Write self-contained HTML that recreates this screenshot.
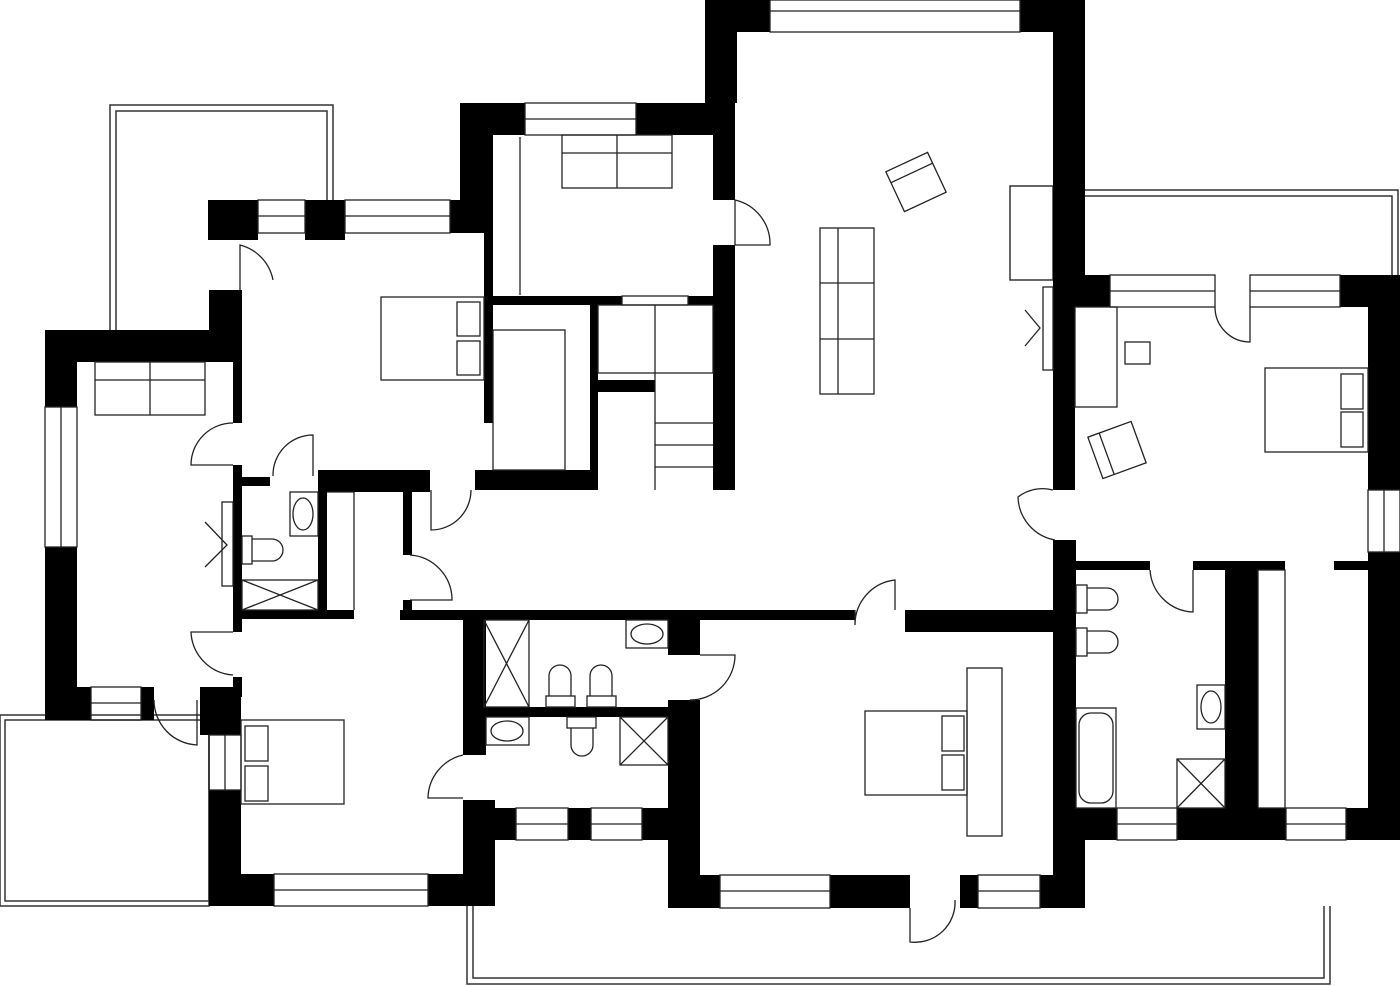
<!DOCTYPE html>
<html><head><meta charset="utf-8"><style>html,body{margin:0;padding:0;background:#fff}svg{display:block}</style></head>
<body>
<svg width="1400" height="986" viewBox="0 0 1400 986" xmlns="http://www.w3.org/2000/svg">
<rect width="1400" height="986" fill="#fff"/>
<!-- terraces -->
<g fill="none" stroke="#333" stroke-width="1.5">
<path d="M110,330 V105 H333 V200"/><path d="M116,330 V111 H327 V200"/>
<rect x="0" y="715" width="209" height="191"/><rect x="5" y="720" width="204" height="181"/>
<path d="M1085,190 H1398 V275"/><path d="M1085,196 H1392 V275"/>
<path d="M467,906 V984 H1330 V906"/><path d="M473,906 V978 H1324 V906"/>
<rect x="1010" y="186" width="43" height="94"/>
</g>
<g fill="#000">
<rect x="705" y="0" width="65" height="32"/><rect x="1020" y="0" width="65" height="32"/>
<rect x="705" y="0" width="32" height="103"/>
<rect x="713" y="103" width="22" height="97"/><rect x="713" y="245" width="22" height="245"/>
<rect x="1053" y="0" width="32" height="275"/><rect x="1053" y="275" width="22" height="215"/>
<rect x="1053" y="540" width="23" height="300"/>
<rect x="460" y="103" width="65" height="32"/><rect x="636" y="103" width="77" height="32"/>
<rect x="460" y="103" width="33" height="130"/><rect x="484" y="233" width="9" height="190"/>
<rect x="484" y="296" width="138" height="9"/><rect x="688" y="296" width="25" height="9"/>
<rect x="590" y="296" width="8" height="194"/><rect x="590" y="380" width="65" height="12"/>
<rect x="475" y="470" width="123" height="20"/><rect x="318" y="470" width="112" height="22"/>
<rect x="208" y="200" width="50" height="40"/><rect x="305" y="200" width="40" height="40"/><rect x="450" y="200" width="40" height="33"/>
<rect x="209" y="290" width="33" height="72"/><rect x="233" y="362" width="9" height="61"/>
<rect x="233" y="465" width="9" height="167"/>
<rect x="242" y="477" width="28" height="9"/><rect x="318" y="470" width="9" height="140"/>
<rect x="242" y="610" width="112" height="9"/>
<rect x="403" y="490" width="9" height="65"/><rect x="403" y="600" width="9" height="20"/>
<rect x="45" y="330" width="197" height="32"/><rect x="45" y="330" width="32" height="77"/>
<rect x="45" y="547" width="32" height="173"/>
<rect x="45" y="687" width="46" height="33"/><rect x="141" y="687" width="13" height="33"/>
<rect x="200" y="687" width="41" height="48"/>
<rect x="209" y="790" width="32" height="116"/>
<rect x="233" y="677" width="9" height="20"/>
<rect x="209" y="874" width="65" height="32"/><rect x="428" y="874" width="67" height="32"/>
<rect x="463" y="800" width="32" height="106"/>
<rect x="400" y="610" width="455" height="10"/><rect x="905" y="610" width="148" height="22"/>
<rect x="463" y="620" width="23" height="135"/><rect x="486" y="707" width="182" height="10"/>
<rect x="668" y="620" width="32" height="35"/><rect x="668" y="700" width="32" height="208"/>
<rect x="463" y="808" width="53" height="32"/><rect x="568" y="808" width="23" height="32"/><rect x="642" y="808" width="58" height="32"/>
<rect x="668" y="875" width="52" height="33"/><rect x="830" y="875" width="80" height="33"/>
<rect x="960" y="875" width="18" height="33"/><rect x="1040" y="875" width="45" height="33"/>
<rect x="1053" y="808" width="32" height="100"/>
<rect x="1075" y="275" width="35" height="32"/><rect x="1340" y="275" width="60" height="32"/>
<rect x="1368" y="275" width="32" height="215"/><rect x="1368" y="552" width="32" height="288"/>
<rect x="1076" y="561" width="74" height="9"/><rect x="1193" y="561" width="92" height="9"/><rect x="1334" y="561" width="34" height="9"/>
<rect x="1225" y="561" width="33" height="247"/>
<rect x="1076" y="808" width="41" height="32"/><rect x="1177" y="808" width="109" height="32"/><rect x="1346" y="808" width="54" height="32"/>
</g>
<g fill="none" stroke="#222" stroke-width="1.3">
<rect x="770" y="0" width="250" height="32"/><line x1="770" y1="11" x2="1020" y2="11"/>
<rect x="525" y="103" width="111" height="32"/><line x1="525" y1="119" x2="636" y2="119"/>
<rect x="258" y="200" width="47" height="33"/><line x1="258" y1="216" x2="305" y2="216"/>
<rect x="345" y="200" width="105" height="33"/><line x1="345" y1="216" x2="450" y2="216"/>
<rect x="45" y="407" width="32" height="140"/><line x1="61" y1="407" x2="61" y2="547"/>
<rect x="91" y="687" width="50" height="33"/><line x1="91" y1="703" x2="141" y2="703"/>
<rect x="209" y="735" width="32" height="55"/><line x1="225" y1="735" x2="225" y2="790"/>
<rect x="274" y="874" width="154" height="32"/><line x1="274" y1="890" x2="428" y2="890"/>
<rect x="516" y="808" width="52" height="32"/><line x1="516" y1="824" x2="568" y2="824"/>
<rect x="591" y="808" width="51" height="32"/><line x1="591" y1="824" x2="642" y2="824"/>
<rect x="720" y="875" width="110" height="33"/><line x1="720" y1="891" x2="830" y2="891"/>
<rect x="978" y="875" width="62" height="33"/><line x1="978" y1="891" x2="1040" y2="891"/>
<rect x="1110" y="275" width="105" height="32"/><line x1="1110" y1="291" x2="1215" y2="291"/>
<rect x="1250" y="275" width="90" height="32"/><line x1="1250" y1="291" x2="1340" y2="291"/>
<rect x="1368" y="490" width="32" height="62"/><line x1="1384" y1="490" x2="1384" y2="552"/>
<rect x="1117" y="808" width="60" height="32"/><line x1="1117" y1="824" x2="1177" y2="824"/>
<rect x="1286" y="808" width="60" height="32"/><line x1="1286" y1="824" x2="1346" y2="824"/>
<rect x="622" y="296" width="66" height="9"/>
<rect x="562" y="135" width="110" height="53"/><line x1="617" y1="135" x2="617" y2="188"/><line x1="562" y1="153" x2="672" y2="153"/>
<line x1="520" y1="137" x2="520" y2="295"/>
<rect x="493" y="330" width="72" height="140"/>
<rect x="598" y="305" width="115" height="68"/><line x1="655" y1="305" x2="655" y2="490"/>
<line x1="655" y1="423" x2="713" y2="423"/><line x1="655" y1="445" x2="713" y2="445"/><line x1="655" y1="467" x2="713" y2="467"/>
<rect x="95" y="362" width="110" height="53"/><line x1="150" y1="362" x2="150" y2="415"/><line x1="95" y1="380" x2="205" y2="380"/>
<rect x="381" y="297" width="103" height="83"/><rect x="457" y="302" width="23" height="34"/><rect x="457" y="341" width="23" height="34"/>
<rect x="241" y="720" width="103" height="84"/><rect x="245" y="726" width="23" height="35"/><rect x="245" y="766" width="23" height="35"/>
<rect x="820" y="228" width="54" height="166"/><line x1="820" y1="283" x2="874" y2="283"/><line x1="820" y1="339" x2="874" y2="339"/><line x1="838" y1="228" x2="838" y2="394"/>
<g transform="rotate(-25 916 182)"><rect x="893" y="160" width="46" height="44"/><line x1="893" y1="172" x2="939" y2="172"/></g>
<g transform="rotate(-20 1117 450)"><rect x="1094" y="428" width="46" height="44"/><line x1="1106" y1="428" x2="1106" y2="472"/></g>
<rect x="1075" y="307" width="42" height="100"/><rect x="1125" y="342" width="25" height="22"/>
<rect x="1265" y="368" width="103" height="84"/><rect x="1341" y="374" width="22" height="35"/><rect x="1341" y="412" width="22" height="35"/>
<rect x="1043" y="287" width="10" height="83"/><polyline points="1025,310 1040,328 1025,346"/>
<rect x="865" y="711" width="102" height="84"/><rect x="942" y="716" width="22" height="35"/><rect x="942" y="755" width="22" height="35"/>
<rect x="967" y="668" width="35" height="168"/>
<rect x="1258" y="570" width="27" height="238"/>
<rect x="484" y="620" width="45" height="87"/><line x1="484" y1="620" x2="529" y2="707"/><line x1="529" y1="620" x2="484" y2="707"/>
<rect x="620" y="717" width="48" height="48"/><line x1="620" y1="717" x2="668" y2="765"/><line x1="668" y1="717" x2="620" y2="765"/>
<rect x="626" y="620" width="42" height="28"/><ellipse cx="647" cy="634" rx="16" ry="10"/>
<rect x="486" y="717" width="43" height="28"/><ellipse cx="507" cy="731" rx="16" ry="10"/>
<rect x="546" y="696" width="29" height="11"/><path d="M549,696 V676 a11,11 0 0 1 22,0 V696"/>
<rect x="587" y="696" width="29" height="11"/><path d="M590,696 V676 a11,11 0 0 1 22,0 V696"/>
<rect x="567" y="717" width="29" height="11"/><path d="M571,728 V745 a11,11 0 0 0 22,0 V728"/>
<rect x="242" y="580" width="76" height="30"/><line x1="242" y1="580" x2="318" y2="610"/><line x1="318" y1="580" x2="242" y2="610"/>
<rect x="290" y="492" width="28" height="44"/><ellipse cx="303" cy="514" rx="10" ry="16"/>
<rect x="242" y="536" width="10" height="28"/><path d="M252,539 H272 a11,11 0 0 1 0,22 H252"/>
<rect x="222" y="502" width="11" height="84"/><polyline points="205,522 227,545 205,567"/>
<line x1="327" y1="492" x2="354" y2="492"/><line x1="354" y1="492" x2="354" y2="610"/>
<rect x="1076" y="585" width="11" height="28"/><path d="M1087,588 H1107 a11,11 0 0 1 0,22 H1087"/>
<rect x="1076" y="628" width="11" height="28"/><path d="M1087,631 H1107 a11,11 0 0 1 0,22 H1087"/>
<rect x="1076" y="708" width="40" height="100"/><rect x="1079" y="713" width="34" height="90" rx="12"/>
<rect x="1197" y="685" width="28" height="44"/><ellipse cx="1211" cy="707" rx="10" ry="16"/>
<rect x="1177" y="759" width="48" height="49"/><line x1="1177" y1="759" x2="1225" y2="808"/><line x1="1225" y1="759" x2="1177" y2="808"/>
<path d="M735,245 V200 a45,45 0 0 1 35,45 Z"/>
<path d="M240,290 V245 a45,45 0 0 1 33,35"/>
<path d="M233,423 A42,42 0 0 0 191,465 H233"/>
<path d="M313,476 V435 A40,40 0 0 0 273,476"/>
<path d="M431,490 V530 A40,40 0 0 0 471,490"/>
<path d="M410,555 A45,45 0 0 1 452,600 H410"/>
<path d="M1053,490 A40,40 0 0 0 1018,497 A45,45 0 0 0 1055,540"/>
<path d="M855,610 V625 A45,45 0 0 1 895,580 V610"/>
<path d="M1150,570 A45,45 0 0 0 1193,612 V570"/>
<path d="M1215,307 A35,35 0 0 0 1250,342 V307"/>
<path d="M233,632 H191 A45,45 0 0 0 233,675"/>
<path d="M154,700 A45,45 0 0 0 197,745 V700"/>
<path d="M700,655 H735 A45,45 0 0 1 690,700"/>
<path d="M463,755 A45,45 0 0 0 428,798 H463"/>
<path d="M910,908 V942 A40,40 0 0 0 955,900"/>
</g>
</svg>
</body></html>
